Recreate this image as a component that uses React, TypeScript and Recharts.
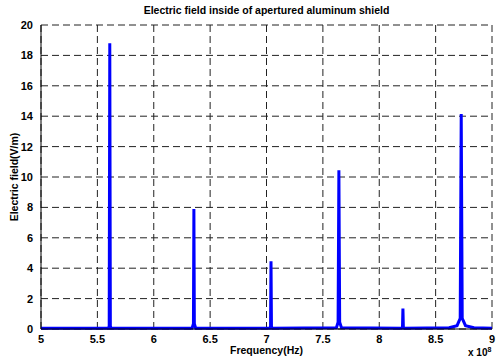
import { LineChart, Line, XAxis, YAxis, CartesianGrid } from "recharts";

// frequency in units of 1e8 Hz
const freq = [
  5, 5.6, 5.605, 5.61, 5.615, 5.62,
  6.34, 6.352, 6.356, 6.36, 6.372,
  7.03, 7.036, 7.04, 7.044, 7.05,
  7.62, 7.635, 7.642, 7.649, 7.665,
  8.2, 8.206, 8.21, 8.214, 8.22,
  8.62, 8.69, 8.718, 8.727, 8.736, 8.765, 8.84, 9,
];
const field = [
  0.05, 0.05, 0.2, 18.8, 0.2, 0.05,
  0.05, 0.35, 7.9, 0.35, 0.05,
  0.05, 0.15, 4.45, 0.15, 0.05,
  0.08, 0.45, 10.45, 0.45, 0.08,
  0.05, 0.1, 1.35, 0.1, 0.05,
  0.08, 0.22, 0.7, 14.15, 0.7, 0.22, 0.08, 0.05,
];
const xTicks = [5, 5.5, 6, 6.5, 7, 7.5, 8, 8.5, 9];
const yTicks = [0, 2, 4, 6, 8, 10, 12, 14, 16, 18, 20];

const data = freq.map((f, i) => ({ f, e: field[i] }));

const font = "'Liberation Sans', Arial, sans-serif";
const tickStyle = { fontFamily: font, fontSize: 11, fontWeight: 700, fill: "#000" };

export default function App() {
  return (
    <div style={{ position: "absolute", left: 0, top: 0, width: 497, height: 360, background: "#fff", fontFamily: font }}>
      <div style={{ position: "absolute", left: 41, width: 451, top: 4, textAlign: "center", fontSize: 10.5, fontWeight: 700 }}>
        Electric field inside of apertured aluminum shield
      </div>
      <LineChart width={497} height={360} data={data} margin={{ top: 25, right: 5, bottom: 11, left: 11 }}>
        <CartesianGrid stroke="#222" strokeDasharray="7 4" />
        <XAxis
          dataKey="f"
          type="number"
          domain={[5, 9]}
          ticks={xTicks}
          tick={tickStyle}
          tickLine={false}
          tickMargin={0}
          height={20}
          axisLine={{ stroke: "#000" }}
          label={{ value: "Frequency(Hz)", position: "insideBottom", offset: -5, style: { ...tickStyle, fontSize: 10.5 } }}
        />
        <XAxis xAxisId="top" orientation="top" dataKey="f" type="number" domain={[5, 9]} ticks={xTicks} tick={false} tickLine={false} height={0} axisLine={{ stroke: "#000" }} />
        <YAxis
          type="number"
          domain={[0, 20]}
          ticks={yTicks}
          tick={tickStyle}
          tickLine={false}
          tickMargin={2}
          width={30}
          axisLine={{ stroke: "#000" }}
          label={{ value: "Electric field(V/m)", angle: -90, position: "insideLeft", offset: 3, style: { ...tickStyle, fontSize: 10.5, textAnchor: "middle" } }}
        />
        <YAxis yAxisId="right" orientation="right" domain={[0, 20]} ticks={yTicks} tick={false} tickLine={false} width={0} axisLine={{ stroke: "#000" }} />
        <Line type="linear" dataKey="e" stroke="#0000ff" strokeWidth={3} dot={false} isAnimationActive={false} />
      </LineChart>
      <div style={{ position: "absolute", left: 468, top: 347, fontSize: 10, fontWeight: 700, lineHeight: "12px", whiteSpace: "nowrap" }}>
        x 10<span style={{ fontSize: 7, position: "relative", top: -4 }}>8</span>
      </div>
    </div>
  );
}
